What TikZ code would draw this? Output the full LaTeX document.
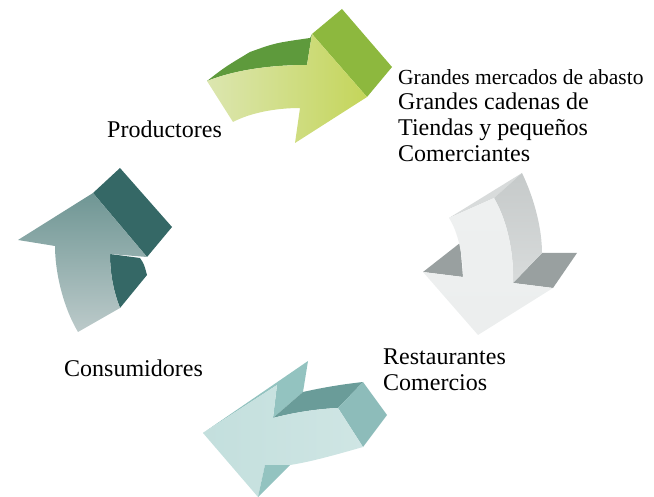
\documentclass[tikz,border=0pt]{standalone}
\usepackage{fontspec}
\setmainfont{Liberation Serif}
\usepackage{xcolor}
\usepackage{tikz}
\usetikzlibrary{calc}

\definecolor{grnDark}{HTML}{5E9A3C}
\definecolor{grnSide}{HTML}{8DB83E}
\definecolor{grnLight}{HTML}{DCE6B0}
\definecolor{grnMid}{HTML}{C4D55A}
\definecolor{gryFront}{HTML}{EEF0F0}
\definecolor{gryTop}{HTML}{D8DBDB}
\definecolor{grySide}{HTML}{C6CACA}
\definecolor{gryWing}{HTML}{99A0A0}
\definecolor{aquaFront}{HTML}{C3DFDD}
\definecolor{aquaWing}{HTML}{93C3C0}
\definecolor{aquaTop}{HTML}{6A9C99}
\definecolor{aquaEnd}{HTML}{8DBCBA}
\definecolor{tealDark}{HTML}{356866}
\definecolor{tealMid}{HTML}{6F9694}
\definecolor{tealLight}{HTML}{BCCACA}

\begin{document}
\begin{tikzpicture}[x=1pt,y=-1pt,
    lbl/.style={anchor=base west,inner sep=0pt,font=\fontsize{24}{26}\selectfont},
    lblsmall/.style={anchor=base west,inner sep=0pt,font=\fontsize{21.5}{26}\selectfont}]
        \useasboundingbox (0,0) rectangle (654,497);

        % green arrow (top)
        \fill[grnDark] (207,81) .. controls (225,67) .. (250,52) .. controls (275,43) .. (310,38) -- (312,34) -- (307,65) .. controls (270,65) and (235,70) .. (207,81) -- cycle;
        \fill[grnSide] (312,34) -- (342,9) -- (392,67) -- (367,97) -- cycle;
        \shade[shading angle=-60,left color=grnLight,right color=grnMid] (207,81) .. controls (235,70) and (270,65) .. (307,65) -- (312,34) -- (367,97) -- (295,143) -- (300,108) .. controls (275,108) and (250,113) .. (233,122) -- cycle;

        % grey arrow (right)
        \fill[gryWing] (423,272) -- (460,243) -- (463,277) -- cycle;
        \fill[gryWing] (513,283) -- (542,253) -- (577,253) -- (553,288) -- cycle;
        \fill[gryTop] (449,218) -- (522,173) -- (494,198) -- cycle;
        \shade[top color=grySide,bottom color=gryTop] (494,198) -- (522,173) .. controls (535,200) and (542,230) .. (542,253) -- (513,283) .. controls (514,255) and (508,222) .. (494,198) -- cycle;
        \shade[top color=gryFront,bottom color=gryFront!90!gryTop] (449,218) -- (494,198) .. controls (508,222) and (514,255) .. (513,283) -- (553,288) -- (478,335) -- (423,272) -- (463,277) .. controls (463,255) and (458,232) .. (449,218) -- cycle;

        % light teal arrow (bottom)
        \fill[aquaWing] (203,433) -- (308,361) -- (303,392) -- (273,418) -- (277,385) -- cycle;
        \fill[aquaTop] (273,418) -- (303,392) .. controls (325,387) and (345,384) .. (363,382) -- (338,408) .. controls (315,409) and (292,413) .. (273,418) -- cycle;
        \fill[aquaEnd] (338,408) -- (363,382) -- (387,415) -- (363,447) -- cycle;
        \shade[left color=aquaFront,right color=aquaFront!80!white] (203,433) -- (277,385) -- (273,418) .. controls (292,413) and (315,409) .. (338,408) -- (363,447) .. controls (335,455) and (310,462) .. (290,465) -- (265,465) -- (258,497) -- cycle;
        \fill[aquaWing] (265,465) -- (290,465) -- (258,497) -- cycle;

        % dark teal arrow (left)
        \fill[tealDark] (93,193) -- (120,168) -- (172,227) -- (147,257) -- cycle;
        \fill[tealDark] (110,254) -- (140,258) .. controls (144,264) .. (147,275) -- (120,308) .. controls (113,290) and (110,272) .. (110,254) -- cycle;
        \shade[shading angle=30,top color=tealMid,bottom color=tealLight] (18,240) -- (93,193) -- (147,257) -- (110,254) .. controls (110,272) and (113,290) .. (120,308) -- (78,332) .. controls (62,305) and (55,270) .. (55,246) -- cycle;

        % labels
        \node[lbl] (prod) at (107,138) {Productores};
        \node[lblsmall] (abasto) at (398,85) {Grandes mercados de abasto};
        \node[lbl] (cadenas) at (398,110) {Grandes cadenas de};
        \node[lbl] (tiendas) at (398,136) {Tiendas y pequeños};
        \node[lbl] (comerc) at (398,162) {Comerciantes};
        \node[lbl] (rest) at (383,364) {Restaurantes};
        \node[lbl] (comercios) at (383,390) {Comercios};
        \node[lbl] (cons) at (64,377) {Consumidores};
    \end{tikzpicture}
\end{document}
